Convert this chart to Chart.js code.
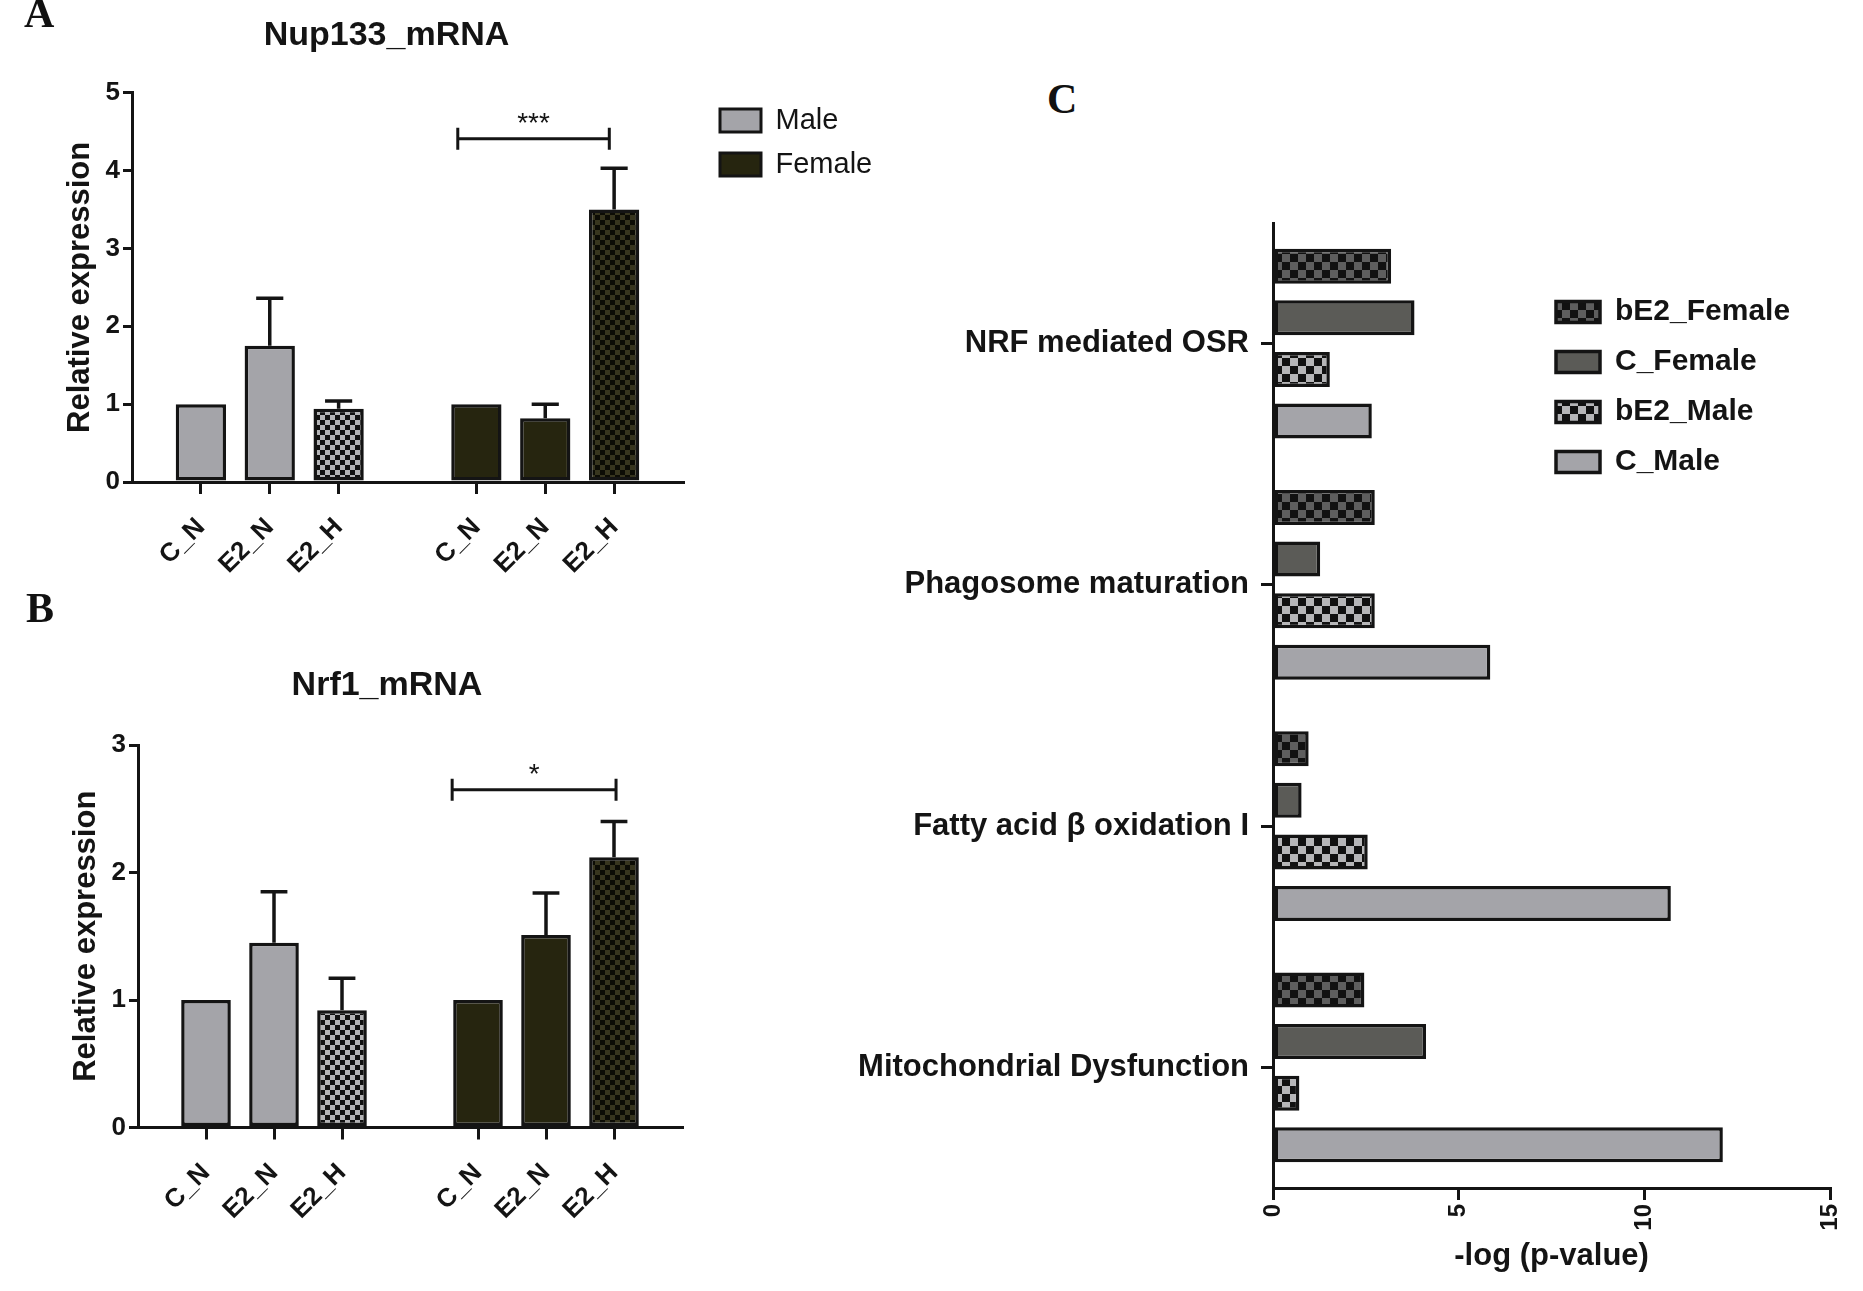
<!DOCTYPE html>
<html>
<head>
<meta charset="utf-8">
<script src="https://cdn.jsdelivr.net/npm/chart.js@4.4.1/dist/chart.umd.min.js"></script>
<style>
  body { margin: 0; background: #fff; }
  #page { position: relative; width: 1863px; height: 1291px; overflow: hidden; background: #fff; }
  canvas { position: absolute; }
  .tag { position: absolute; font: bold 42px 'Liberation Serif', 'Times New Roman', serif; line-height: 1; color: #111; }
</style>
</head>
<body>
<div id="page">
  <canvas id="nup" width="900" height="600" style="left:0;top:0"></canvas>
  <canvas id="nrf" width="760" height="691" style="left:0;top:600px"></canvas>
  <canvas id="path" width="1013" height="1141" style="left:850px;top:150px"></canvas>
  <div class="tag" style="left:24px;top:-8px">A</div>
  <div class="tag" style="left:26px;top:587px">B</div>
  <div class="tag" style="left:1047px;top:78px">C</div>
</div>
<script>
// --- data ---
// blank slots pad the ends and separate the male / female groups
const groupLabels = ['', 'C_N', 'E2_N', 'E2_H', '', 'C_N', 'E2_N', 'E2_H', ''];

const nupMale      = [null, 1.00, 1.75, 0.94, null, null, null, null, null];
const nupMaleSem   = [null, 0,    0.61, 0.10, null, null, null, null, null];
const nupFemale    = [null, null, null, null, null, 1.00, 0.82, 3.50, null];
const nupFemaleSem = [null, null, null, null, null, 0,    0.18, 0.53, null];
const nupTicks = [0, 1, 2, 3, 4, 5];
const nupSig = { from: 4.73, to: 6.93, at: 4.41, mark: '***' };

const nrfMale      = [null, 1.00, 1.45, 0.92, null, null, null, null, null];
const nrfMaleSem   = [null, 0,    0.40, 0.25, null, null, null, null, null];
const nrfFemale    = [null, null, null, null, null, 1.00, 1.51, 2.12, null];
const nrfFemaleSem = [null, null, null, null, null, 0,    0.33, 0.28, null];
const nrfTicks = [0, 1, 2, 3];
const nrfSig = { from: 4.62, to: 7.03, at: 2.65, mark: '*' };

const pathways  = ['NRF mediated OSR', 'Phagosome maturation', 'Fatty acid \u03b2 oxidation I', 'Mitochondrial Dysfunction'];
const bE2Female = [3.18, 2.74, 0.96, 2.46];
const cFemale   = [3.81, 1.27, 0.77, 4.12];
const bE2Male   = [1.53, 2.74, 2.55, 0.71];
const cMale     = [2.66, 5.85, 10.71, 12.11];
const pTicks = [0, 5, 10, 15];

// --- style ---
const ink = '#141414';
const maleGrey = '#a4a4a9';
const femaleDark = '#26250f';
const cFemaleGrey = '#5b5b57';

Chart.defaults.font.family = "'Liberation Sans', Arial, sans-serif";
Chart.defaults.color = ink;

function checker(light, dark, cell) {
  const c = document.createElement('canvas');
  c.width = c.height = cell * 2;
  const g = c.getContext('2d');
  g.fillStyle = light;
  g.fillRect(0, 0, cell * 2, cell * 2);
  g.fillStyle = dark;
  g.fillRect(0, 0, cell, cell);
  g.fillRect(cell, cell, cell, cell);
  return g.createPattern(c, 'repeat');
}

const maleCheck = checker('#b4b4b6', '#111', 5);
const femaleCheck = checker('#37351e', '#0c0c05', 5);

// error bars (upper only) and the significance bracket
const barExtras = {
  id: 'barExtras',
  afterDatasetsDraw(chart, args, opts) {
    const { ctx, scales: { x, y } } = chart;
    ctx.save();
    ctx.strokeStyle = ink;
    ctx.lineWidth = 3.5;
    chart.data.datasets.forEach((ds, di) => {
      if (!ds.sem) return;
      chart.getDatasetMeta(di).data.forEach((bar, i) => {
        if (ds.data[i] == null || !ds.sem[i]) return;
        const top = y.getPixelForValue(ds.data[i] + ds.sem[i]);
        const cap = bar.width * 0.27;
        ctx.beginPath();
        ctx.moveTo(bar.x, bar.y);
        ctx.lineTo(bar.x, top);
        ctx.moveTo(bar.x - cap, top);
        ctx.lineTo(bar.x + cap, top);
        ctx.stroke();
      });
    });
    const sig = opts.sig;
    if (sig) {
      const x0 = x.getPixelForValue(sig.from);
      const x1 = x.getPixelForValue(sig.to);
      const yy = y.getPixelForValue(sig.at);
      ctx.lineWidth = 3;
      ctx.beginPath();
      ctx.moveTo(x0, yy); ctx.lineTo(x1, yy);
      ctx.moveTo(x0, yy - 11); ctx.lineTo(x0, yy + 11);
      ctx.moveTo(x1, yy - 11); ctx.lineTo(x1, yy + 11);
      ctx.stroke();
      ctx.fillStyle = ink;
      ctx.font = "28px 'Liberation Sans', Arial, sans-serif";
      ctx.textAlign = 'center';
      ctx.textBaseline = 'alphabetic';
      ctx.fillText(sig.mark, (x0 + x1) / 2, yy - 7);
    }
    ctx.restore();
  }
};

// the 'chartArea' legend always sits on the left; move it where the figure has it
const legendAt = {
  id: 'legendAt',
  afterLayout(chart, args, opts) {
    if (!chart.legend || opts.left === undefined) return;
    chart.legend.left = opts.left;
    chart.legend.top = opts.top;
    chart.legend.right = chart.width;
    chart.legend.bottom = chart.height;
  }
};

const axisLine = { color: ink, width: 3 };
const baseLabels = Chart.defaults.plugins.legend.labels.generateLabels;

function expressionChart(id, o) {
  const bar = {
    grouped: false,
    borderColor: ink,
    borderWidth: 3.5,
    borderSkipped: false,
    barPercentage: 0.73,
    categoryPercentage: 1
  };
  return new Chart(document.getElementById(id), {
    type: 'bar',
    data: {
      labels: groupLabels,
      datasets: [
        Object.assign({ label: 'Male', data: o.male, sem: o.maleSem,
          backgroundColor: (c) => groupLabels[c.dataIndex] === 'E2_H' ? maleCheck : maleGrey }, bar),
        Object.assign({ label: 'Female', data: o.female, sem: o.femaleSem,
          backgroundColor: (c) => groupLabels[c.dataIndex] === 'E2_H' ? femaleCheck : femaleDark }, bar)
      ]
    },
    plugins: [barExtras, legendAt],
    options: {
      responsive: false,
      animation: false,
      events: [],
      layout: { padding: o.padding },
      scales: {
        x: {
          offset: false,
          grid: {
            offset: false, drawOnChartArea: false, tickLength: 12, lineWidth: 3,
            color: (c) => groupLabels[c.index] ? ink : 'rgba(0,0,0,0)'
          },
          border: axisLine,
          ticks: { autoSkip: false, minRotation: 45, maxRotation: 45, padding: 18,
            font: { size: 26, weight: 'bold' } },
          afterFit: (s) => { s.height = o.xHeight; }
        },
        y: {
          min: o.ticks[0],
          max: o.ticks[o.ticks.length - 1],
          ticks: { stepSize: o.ticks[1] - o.ticks[0], padding: 3, font: { size: 26, weight: 'bold' } },
          grid: { drawOnChartArea: false, tickLength: 9, lineWidth: 3, color: ink },
          border: axisLine,
          title: { display: true, text: 'Relative expression', font: { size: 31, weight: 'bold' },
            padding: { top: o.yTitlePad, bottom: 0 } },
          afterFit: (s) => { s.width = o.yWidth; }
        }
      },
      plugins: {
        title: { display: true, text: o.title, color: ink, font: { size: 34, weight: 'bold' },
          padding: o.titlePad },
        legend: o.legend ? {
          position: 'chartArea',
          align: 'start',
          labels: {
            boxWidth: 41, boxHeight: 23, padding: 15, color: ink, font: { size: 29 },
            generateLabels: (chart) => baseLabels(chart).map((item, i) =>
              Object.assign(item, { fillStyle: [maleGrey, femaleDark][i], lineWidth: 3 }))
          }
        } : { display: false },
        legendAt: o.legend || {},
        tooltip: { enabled: false },
        barExtras: { sig: o.sig }
      }
    }
  });
}

expressionChart('nup', {
  title: 'Nup133_mRNA',
  male: nupMale, maleSem: nupMaleSem, female: nupFemale, femaleSem: nupFemaleSem,
  ticks: nupTicks, sig: nupSig,
  padding: { left: 90, right: 217, top: 0, bottom: 0 },
  titlePad: { top: 15, bottom: 37 },
  yWidth: 42, yTitlePad: -28.6, xHeight: 118,
  legend: { left: 705, top: 91 }
});

expressionChart('nrf', {
  title: 'Nrf1_mRNA',
  male: nrfMale, maleSem: nrfMaleSem, female: nrfFemale, femaleSem: nrfFemaleSem,
  ticks: nrfTicks, sig: nrfSig,
  padding: { left: 92, right: 78, top: 0, bottom: 0 },
  titlePad: { top: 65.6, bottom: 38.6 },
  yWidth: 46, yTitlePad: -24, xHeight: 163.5,
  legend: null
});

const hBar = { borderColor: ink, borderWidth: 3.5, borderSkipped: false, barPercentage: 0.68, categoryPercentage: 0.855 };

new Chart(document.getElementById('path'), {
  type: 'bar',
  data: {
    labels: pathways,
    datasets: [
      Object.assign({ label: 'bE2_Female', data: bE2Female, backgroundColor: checker('#5e5e5e', '#111', 8) }, hBar),
      Object.assign({ label: 'C_Female', data: cFemale, backgroundColor: cFemaleGrey }, hBar),
      Object.assign({ label: 'bE2_Male', data: bE2Male, backgroundColor: checker('#b6b6b8', '#111', 8) }, hBar),
      Object.assign({ label: 'C_Male', data: cMale, backgroundColor: maleGrey }, hBar)
    ]
  },
  plugins: [legendAt],
  options: {
    indexAxis: 'y',
    responsive: false,
    animation: false,
    events: [],
    layout: { padding: { left: 0, right: 20, top: 73, bottom: 0 } },
    scales: {
      y: {
        grid: { offset: false, drawOnChartArea: false, tickLength: 12, lineWidth: 3, color: ink },
        border: axisLine,
        ticks: { padding: 12, font: { size: 31, weight: 'bold' } },
        afterFit: (s) => { s.width = 423; }
      },
      x: {
        min: pTicks[0],
        max: pTicks[pTicks.length - 1],
        ticks: { stepSize: pTicks[1] - pTicks[0], minRotation: 90, maxRotation: 90, padding: 4,
          font: { size: 24, weight: 'bold' } },
        grid: { drawOnChartArea: false, tickLength: 12, lineWidth: 3, color: ink },
        border: axisLine,
        title: { display: true, text: '-log (p-value)', font: { size: 31, weight: 'bold' },
          padding: { top: 0, bottom: 16 } },
        afterFit: (s) => { s.height = 103; }
      }
    },
    plugins: {
      legend: {
        position: 'chartArea',
        align: 'start',
        labels: { boxWidth: 44, boxHeight: 21, padding: 20, color: ink, font: { size: 30, weight: 'bold' } }
      },
      legendAt: { left: 686, top: 127 },
      tooltip: { enabled: false }
    }
  }
});
</script>
</body>
</html>
